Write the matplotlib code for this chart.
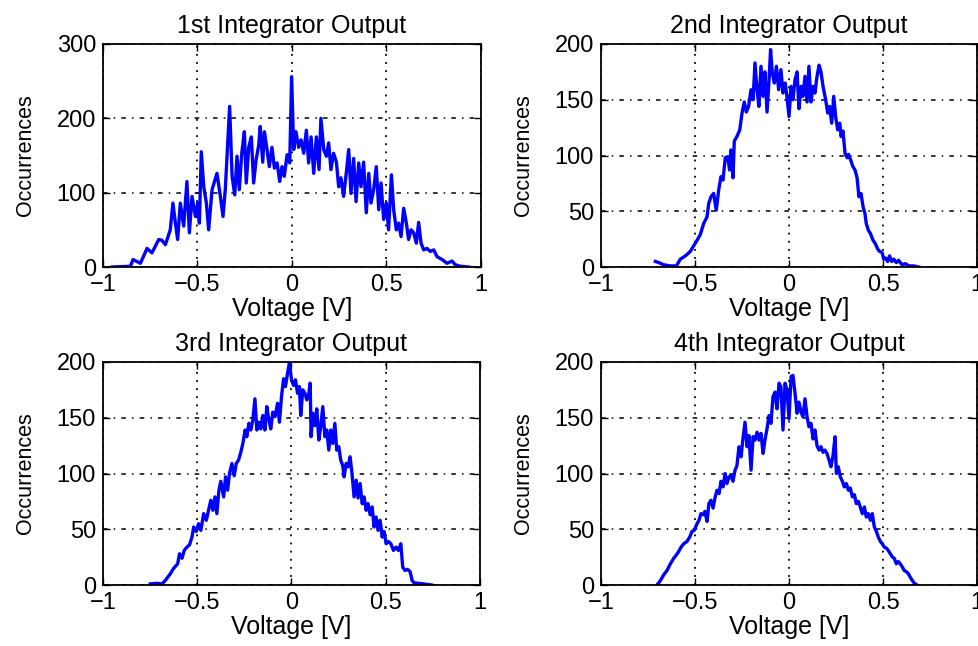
import matplotlib
matplotlib.use("Agg")
import matplotlib.pyplot as plt

plt.rcParams['font.family'] = ['Liberation Sans', 'DejaVu Sans']

titles = ['1st Integrator Output', '2nd Integrator Output',
          '3rd Integrator Output', '4th Integrator Output']
y_max = [300, 200, 200, 200]
y_ticks = [[0, 100, 200, 300], [0, 50, 100, 150, 200],
           [0, 50, 100, 150, 200], [0, 50, 100, 150, 200]]
x_ticks = [-1, -0.5, 0, 0.5, 1]

# 1st integrator histogram (voltage, occurrences)
v1 = [-0.952, -0.855, -0.841, -0.802, -0.767, -0.741, -0.705, -0.688, -0.670, -0.644,
      -0.630, -0.617, -0.605, -0.591, -0.573, -0.556, -0.543, -0.529, -0.511, -0.499,
      -0.490, -0.480, -0.467, -0.453, -0.441, -0.423, -0.397, -0.379, -0.365, -0.353,
      -0.330, -0.317, -0.303, -0.291, -0.279, -0.265, -0.252, -0.242, -0.229, -0.215,
      -0.203, -0.190, -0.176, -0.168, -0.155, -0.146, -0.132, -0.120, -0.106, -0.093,
      -0.079, -0.065, -0.053, -0.041, -0.026, -0.012, -0.002, 0.009, 0.021, 0.035,
      0.048, 0.062, 0.076, 0.088, 0.101, 0.115, 0.129, 0.143, 0.153, 0.168,
      0.182, 0.194, 0.206, 0.220, 0.235, 0.247, 0.259, 0.273, 0.287, 0.300,
      0.312, 0.326, 0.339, 0.353, 0.365, 0.379, 0.393, 0.406, 0.418, 0.432,
      0.446, 0.459, 0.471, 0.485, 0.499, 0.511, 0.526, 0.538, 0.552, 0.564,
      0.577, 0.591, 0.605, 0.617, 0.630, 0.644, 0.658, 0.670, 0.683, 0.697,
      0.714, 0.732, 0.750, 0.767, 0.794, 0.820, 0.847, 0.864, 0.891, 0.935]
c1 = [0, 1, 10, 5, 25, 19, 37, 36, 30, 50,
      86, 59, 37, 86, 55, 115, 46, 95, 68, 86,
      59, 155, 108, 86, 50, 104, 126, 95, 68, 104,
      216, 122, 97, 149, 104, 155, 182, 113, 161, 175,
      113, 144, 164, 189, 141, 182, 158, 135, 161, 133,
      140, 115, 135, 122, 151, 140, 256, 158, 182, 161,
      171, 153, 184, 140, 175, 126, 175, 131, 200, 158,
      149, 167, 131, 153, 141, 108, 120, 95, 126, 158,
      99, 146, 88, 140, 108, 141, 73, 126, 86, 104,
      135, 77, 113, 64, 86, 50, 124, 77, 50, 59,
      41, 79, 59, 37, 50, 46, 32, 60, 32, 23,
      25, 21, 23, 14, 10, 5, 8, 3, 1, 0]

# 2nd integrator histogram
v2 = [-0.711, -0.693, -0.667, -0.631, -0.599, -0.578, -0.551, -0.525, -0.507, -0.489,
      -0.472, -0.454, -0.436, -0.427, -0.415, -0.401, -0.387, -0.374, -0.362, -0.351,
      -0.339, -0.326, -0.316, -0.309, -0.298, -0.291, -0.277, -0.262, -0.250, -0.238,
      -0.227, -0.215, -0.202, -0.191, -0.181, -0.170, -0.160, -0.149, -0.138, -0.128,
      -0.117, -0.106, -0.098, -0.089, -0.078, -0.067, -0.055, -0.043, -0.032, -0.020,
      -0.011, 0.000, 0.011, 0.021, 0.032, 0.043, 0.053, 0.064, 0.074, 0.085,
      0.096, 0.106, 0.117, 0.128, 0.138, 0.149, 0.160, 0.170, 0.181, 0.195,
      0.206, 0.216, 0.227, 0.238, 0.248, 0.259, 0.270, 0.277, 0.287, 0.298,
      0.309, 0.317, 0.330, 0.340, 0.351, 0.362, 0.372, 0.383, 0.394, 0.404,
      0.411, 0.422, 0.433, 0.447, 0.459, 0.472, 0.482, 0.495, 0.504, 0.514,
      0.525, 0.535, 0.546, 0.557, 0.571, 0.583, 0.601, 0.619, 0.637, 0.663, 0.690]
c2 = [5, 4, 2, 1, 1, 7, 10, 14, 19, 24,
      29, 39, 45, 57, 63, 66, 51, 69, 81, 78,
      98, 99, 87, 105, 80, 113, 117, 123, 138, 148,
      139, 144, 159, 150, 183, 159, 144, 180, 153, 175,
      139, 168, 195, 174, 165, 180, 159, 177, 156, 165,
      153, 135, 162, 150, 168, 175, 142, 162, 153, 171,
      148, 180, 148, 162, 156, 171, 181, 175, 162, 150,
      138, 144, 129, 153, 135, 123, 129, 117, 122, 102,
      98, 101, 95, 90, 87, 80, 63, 66, 54, 48,
      39, 33, 30, 24, 21, 16, 14, 13, 7, 8,
      5, 10, 5, 7, 4, 6, 2, 3, 1, 1, 0]

# 3rd integrator histogram
v3 = [-0.749, -0.714, -0.687, -0.670, -0.643, -0.625, -0.604, -0.594, -0.581, -0.569,
      -0.555, -0.541, -0.528, -0.519, -0.505, -0.493, -0.481, -0.466, -0.452, -0.440,
      -0.428, -0.417, -0.406, -0.396, -0.385, -0.375, -0.360, -0.350, -0.339, -0.329,
      -0.316, -0.304, -0.293, -0.281, -0.269, -0.258, -0.246, -0.237, -0.226, -0.216,
      -0.205, -0.194, -0.184, -0.173, -0.163, -0.152, -0.141, -0.131, -0.120, -0.110,
      -0.099, -0.087, -0.074, -0.064, -0.053, -0.042, -0.032, -0.021, -0.011, 0.000,
      0.011, 0.021, 0.032, 0.042, 0.049, 0.060, 0.071, 0.081, 0.092, 0.099,
      0.104, 0.113, 0.124, 0.134, 0.145, 0.155, 0.166, 0.177, 0.187, 0.198,
      0.208, 0.219, 0.230, 0.240, 0.251, 0.261, 0.272, 0.279, 0.290, 0.300,
      0.311, 0.322, 0.332, 0.343, 0.353, 0.364, 0.375, 0.385, 0.396, 0.406,
      0.417, 0.428, 0.438, 0.449, 0.459, 0.470, 0.481, 0.491, 0.502, 0.514,
      0.527, 0.541, 0.555, 0.567, 0.580, 0.590, 0.602, 0.615, 0.629, 0.640,
      0.650, 0.673, 0.700, 0.744]
c3 = [1, 1.5, 1, 4, 10, 15, 19, 28, 24, 31,
      34, 36, 43, 52, 48, 55, 49, 64, 58, 67,
      76, 67, 79, 64, 85, 93, 79, 97, 85, 100,
      109, 98, 109, 112, 119, 127, 139, 133, 145, 139,
      148, 167, 139, 146, 140, 152, 139, 160, 148, 140,
      155, 151, 163, 146, 169, 185, 178, 190, 199, 184,
      179, 184, 172, 178, 152, 175, 172, 166, 172, 181,
      133, 154, 143, 158, 130, 142, 160, 133, 139, 121,
      139, 127, 145, 121, 124, 112, 107, 97, 109, 106,
      115, 98, 79, 94, 78, 91, 73, 79, 67, 73,
      63, 70, 52, 61, 49, 58, 43, 48, 37, 39,
      37, 31, 34, 31, 37, 16, 13, 14, 12, 4,
      2, 1.5, 1, 0]

# 4th integrator histogram
v4 = [-0.702, -0.684, -0.667, -0.649, -0.631, -0.613, -0.599, -0.587, -0.574, -0.560,
      -0.543, -0.528, -0.516, -0.504, -0.489, -0.479, -0.468, -0.457, -0.447, -0.436,
      -0.426, -0.415, -0.404, -0.394, -0.383, -0.372, -0.362, -0.351, -0.340, -0.330,
      -0.319, -0.309, -0.298, -0.287, -0.277, -0.266, -0.255, -0.245, -0.234, -0.223,
      -0.213, -0.202, -0.191, -0.181, -0.170, -0.160, -0.149, -0.138, -0.128, -0.117,
      -0.106, -0.096, -0.085, -0.074, -0.064, -0.053, -0.043, -0.032, -0.021, -0.011,
      0.000, 0.011, 0.021, 0.032, 0.043, 0.053, 0.064, 0.074, 0.085, 0.096,
      0.106, 0.117, 0.128, 0.138, 0.149, 0.160, 0.170, 0.181, 0.191, 0.202,
      0.213, 0.223, 0.234, 0.245, 0.252, 0.262, 0.273, 0.284, 0.294, 0.305,
      0.316, 0.326, 0.337, 0.348, 0.358, 0.369, 0.379, 0.390, 0.401, 0.411,
      0.422, 0.433, 0.443, 0.454, 0.465, 0.475, 0.486, 0.496, 0.507, 0.518,
      0.528, 0.539, 0.550, 0.560, 0.571, 0.582, 0.592, 0.603, 0.613, 0.624,
      0.635, 0.645, 0.656, 0.667, 0.681]
c4 = [0, 4, 9, 13, 19, 24, 27, 30, 34, 37,
      39, 43, 48, 49, 55, 58, 64, 63, 66, 57,
      73, 76, 69, 78, 85, 82, 93, 88, 100, 91,
      97, 98, 93, 103, 107, 124, 115, 131, 146, 124,
      134, 103, 133, 130, 137, 130, 136, 118, 130, 140,
      152, 145, 169, 173, 158, 181, 178, 139, 181, 175,
      149, 187, 188, 172, 154, 164, 155, 151, 167, 151,
      142, 145, 131, 139, 125, 121, 124, 119, 121, 118,
      112, 106, 116, 133, 100, 106, 97, 93, 88, 91,
      85, 87, 79, 81, 73, 75, 70, 64, 70, 61,
      64, 58, 64, 52, 48, 43, 39, 37, 34, 33,
      31, 28, 25, 24, 19, 21, 19, 16, 13, 12,
      10, 7, 4, 1.5, 0]

volts = [v1, v2, v3, v4]
counts = [c1, c2, c3, c4]

# axes boxes in pixels: left, right, top, bottom
W, H = 979, 646
boxes = [(103, 481, 44, 267), (601, 977, 44, 267),
         (103, 480, 362, 585), (601, 977, 362, 585)]

fig = plt.figure(figsize=(W / 100, H / 100), dpi=100)
fs = 17

for i in range(4):
    l, r, t, b = boxes[i]
    ax = fig.add_axes([l / W, 1 - b / H, (r - l) / W, (b - t) / H])
    ax.plot(volts[i], counts[i], color='#0000ff', linewidth=2.4)
    ax.set_xlim(-1, 1)
    ax.set_ylim(0, y_max[i])
    ax.set_xticks(x_ticks)
    ax.set_xticklabels(['\u22121', '\u22120.5', '0', '0.5', '1'])
    ax.set_yticks(y_ticks[i])
    ax.tick_params(direction='in', top=True, right=True, length=5, width=1,
                   labelsize=fs, pad=5)
    ax.xaxis.grid(True, color='black', linestyle=(0, (1, 3.5)), linewidth=1.3)
    ax.yaxis.grid(True, color='black', linestyle=(0, (3, 4, 1, 4)), linewidth=1.1)
    for s in ax.spines.values():
        s.set_linewidth(1.3)
    ax.set_title(titles[i], fontsize=fs + 1, pad=8)
    ax.set_xlabel('Voltage [V]', fontsize=fs + 1, labelpad=0.5)
    ax.set_ylabel('Occurrences', fontsize=fs - 1.5, labelpad=15)

fig.savefig('out.png', dpi=100)
